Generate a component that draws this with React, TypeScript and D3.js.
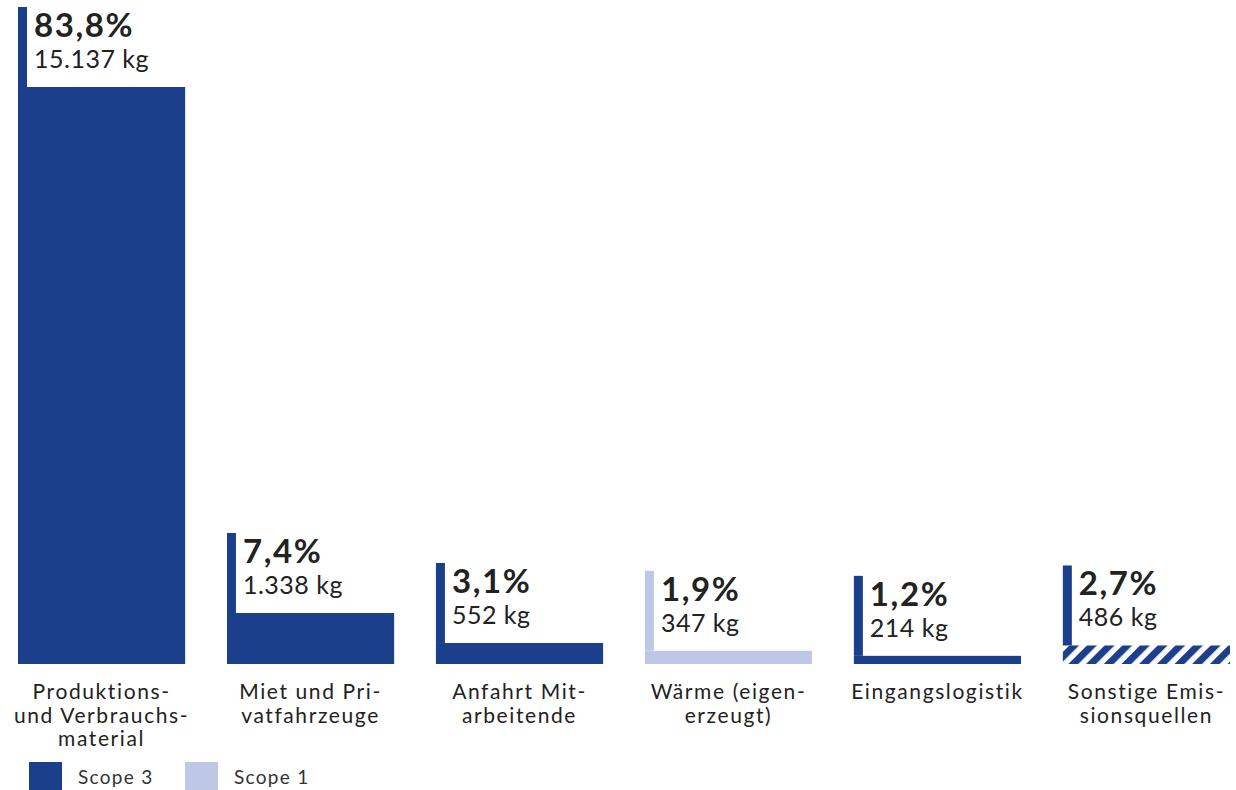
import React from "react";
import * as d3 from "d3";

const categories: string[][] = [
  ["Produktions-", "und Verbrauchs-", "material"],
  ["Miet und Pri-", "vatfahrzeuge"],
  ["Anfahrt Mit-", "arbeitende"],
  ["Wärme (eigen-", "erzeugt)"],
  ["Eingangslogistik"],
  ["Sonstige Emis-", "sionsquellen"],
];
const kgValues: number[] = [15137, 1338, 552, 347, 214, 486];
const kgLabels: string[] = ["15.137 kg", "1.338 kg", "552 kg", "347 kg", "214 kg", "486 kg"];
const pctLabels: string[] = ["83,8%", "7,4%", "3,1%", "1,9%", "1,2%", "2,7%"];
const scopes: string[] = ["Scope 3", "Scope 3", "Scope 3", "Scope 1", "Scope 3", "Sonstige"];
const legendItems: string[] = ["Scope 3", "Scope 1"];

const W = 1236;
const H = 790;
const DARK = "#1b3f8a";
const LIGHT = "#bec8e6";
const FONT = "Lato, 'Open Sans', sans-serif";
const TEXT = "#222";

const colorOf = (s: string) => (s === "Scope 1" ? LIGHT : s === "Scope 3" ? DARK : "url(#hatch)");
const markerColorOf = (s: string) => (s === "Scope 1" ? LIGHT : DARK);

export default function App() {
  const idx = categories.map((_, i) => String(i));
  const x = d3.scaleBand<string>().domain(idx).range([18, 1230]).paddingInner(0.2).paddingOuter(0);
  const y = d3.scaleLinear().domain([0, d3.max(kgValues) as number]).range([664, 87]);
  const bw = x.bandwidth();

  return (
    <svg width={W} height={H} style={{ position: "absolute", left: 0, top: 0 }} fontFamily={FONT}>
      <defs>
        <pattern id="hatch" width={12.5} height={12.5} patternUnits="userSpaceOnUse" patternTransform="rotate(45)">
          <rect width={12.5} height={12.5} fill="#fff" />
          <rect width={7} height={12.5} fill={DARK} />
        </pattern>
      </defs>
      {kgValues.map((v, i) => {
        const x0 = x(String(i)) as number;
        const top = y(v);
        return (
          <g key={i}>
            <rect x={x0} y={top} width={bw} height={y(0) - top} fill={colorOf(scopes[i])} />
            <rect x={x0} y={top - 80} width={9} height={80} fill={markerColorOf(scopes[i])} />
            <text x={x0 + 16} y={top - 50} fontSize={33} fontWeight={700} fill={TEXT} letterSpacing={1.6}>
              {pctLabels[i]}
            </text>
            <text x={x0 + 16} y={top - 19} fontSize={25} fill={TEXT} letterSpacing={0.5}>
              {kgLabels[i]}
            </text>
            {categories[i].map((line, j) => (
              <text key={j} x={x0 + bw / 2} y={699 + j * 23.5} fontSize={21} textAnchor="middle" fill={TEXT} letterSpacing={1.6}>
                {line}
              </text>
            ))}
          </g>
        );
      })}
      {legendItems.map((s, i) => (
        <g key={s}>
          <rect x={29 + i * 156} y={762} width={33} height={33} fill={colorOf(s)} />
          <text x={78 + i * 156} y={784} fontSize={19} fill="#333" letterSpacing={1.3}>
            {s}
          </text>
        </g>
      ))}
    </svg>
  );
}
